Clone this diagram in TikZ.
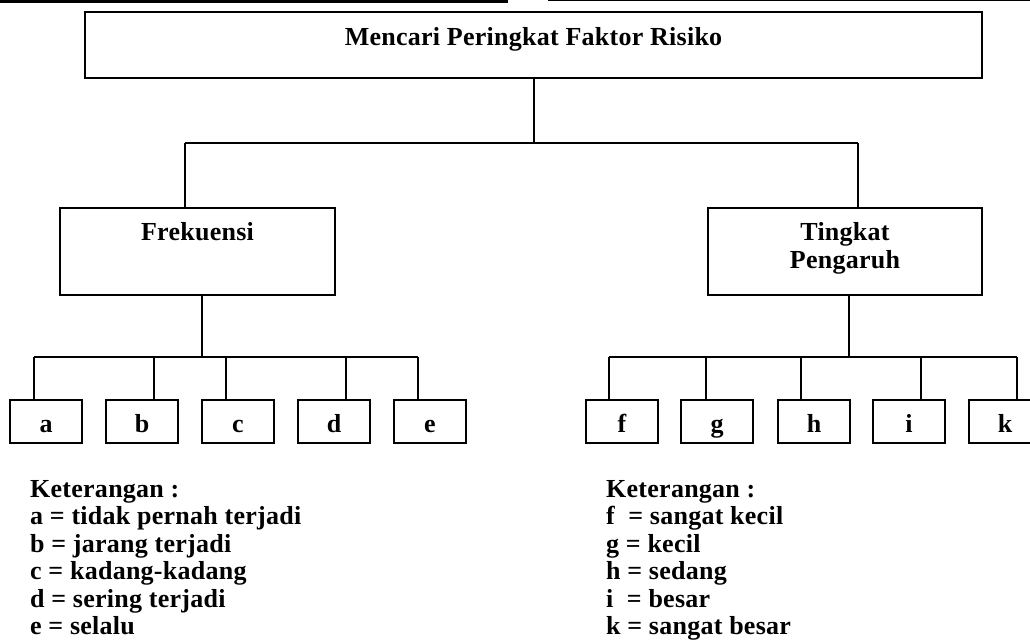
\documentclass[tikz,border=0pt]{standalone}
\usepackage{fontspec}
\setmainfont{Liberation Serif}[LetterSpace=1.0]
\begin{document}
\begin{tikzpicture}[x=1pt,y=-1pt,
  box/.style={draw,line width=1.4pt,rectangle,inner sep=0pt,anchor=center},
  lbl/.style={inner sep=0pt,anchor=base,font=\fontsize{26}{27.5}\selectfont\bfseries},
  leg/.style={inner sep=0pt,anchor=base west,font=\fontsize{26}{27.5}\selectfont\bfseries},
  conn/.style={line width=1.4pt}]
\useasboundingbox (0,0) rectangle (1030,640);
\clip (0,0) rectangle (1030,640);
% page edge rules
\draw[line width=2.7pt] (0,1.3) -- (508,1.3);
\draw[line width=1.2pt] (548,0.7) -- (1030,0.7);
% main boxes
\node[box,minimum width=897pt,minimum height=66pt] (top) at (533.5,45) {};
\node[lbl] (toptxt) at (533.5,45) {Mencari Peringkat Faktor Risiko};
\node[box,minimum width=275pt,minimum height=87pt] (freq) at (197.5,251.5) {};
\node[lbl] (freqtxt) at (197.5,240) {Frekuensi};
\node[box,minimum width=274pt,minimum height=87pt] (ting) at (845,251.5) {};
\node[lbl] (tingtxt1) at (845,240) {Tingkat};
\node[lbl] (tingtxt2) at (845,268) {Pengaruh};
% leaf boxes
\foreach \n/\x in {a/46,b/142,c/238,d/334,e/430,f/622,g/717,h/814,i/909,k/1005}{
  \node[box,minimum width=72pt,minimum height=43pt] (\n) at (\x,421.5) {};
  \node[lbl] (\n txt) at (\x,432) {\n};
}
% connectors: top level
\coordinate (tbus) at (534,143);
\coordinate (tl) at (185,143);
\coordinate (tr) at (858,143);
\draw[conn] (top.south -| tbus) -- (tbus);
\draw[conn] (tl) -- (tr);
\draw[conn] (tl) -- (tl |- freq.north);
\draw[conn] (tr) -- (tr |- ting.north);
% left bus
\coordinate (lb) at (202,357);
\draw[conn] (freq.south -| lb) -- (lb);
\coordinate (da) at (34,357);
\coordinate (db) at (154,357);
\coordinate (dc) at (226,357);
\coordinate (dd) at (346,357);
\coordinate (de) at (418,357);
\draw[conn] (da) -- (de);
\foreach \n in {a,b,c,d,e}{\draw[conn] (d\n) -- (d\n |- \n.north);}
% right bus
\coordinate (rb) at (849,357);
\draw[conn] (ting.south -| rb) -- (rb);
\coordinate (df) at (609,357);
\coordinate (dg) at (706,357);
\coordinate (dh) at (801,357);
\coordinate (di) at (921,357);
\coordinate (dk) at (1017,357);
\draw[conn] (df) -- (dk);
\foreach \n in {f,g,h,i,k}{\draw[conn] (d\n) -- (d\n |- \n.north);}
% legends
\node[leg] (l0) at (30,497) {Keterangan :};
\node[leg] (l1) at (30,524.5) {a = tidak pernah terjadi};
\node[leg] (l2) at (30,552) {b = jarang terjadi};
\node[leg] (l3) at (30,579.5) {c = kadang-kadang};
\node[leg] (l4) at (30,607) {d = sering terjadi};
\node[leg] (l5) at (30,634.5) {e = selalu};
\node[leg] (r0) at (606,497) {Keterangan :};
\node[leg] (r1) at (606,524.5) {f\ \ = sangat kecil};
\node[leg] (r2) at (606,552) {g = kecil};
\node[leg] (r3) at (606,579.5) {h = sedang};
\node[leg] (r4) at (606,607) {i\ \ = besar};
\node[leg] (r5) at (606,634.5) {k = sangat besar};
\end{tikzpicture}
\end{document}
